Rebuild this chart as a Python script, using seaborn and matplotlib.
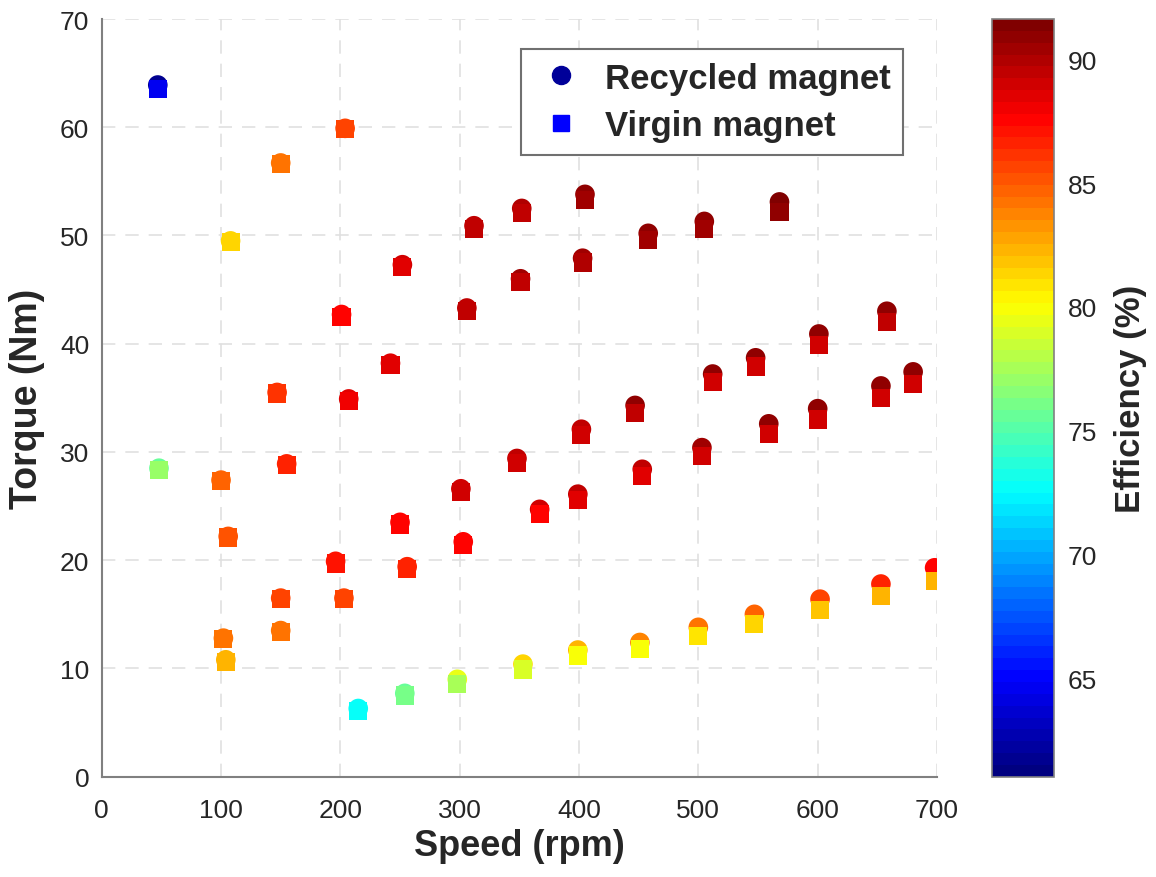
import numpy as np
import pandas as pd
import matplotlib
matplotlib.use("Agg")
import matplotlib.pyplot as plt
import seaborn as sns
from matplotlib.lines import Line2D
from matplotlib.colors import LinearSegmentedColormap

# speed (rpm), torque (Nm) and efficiency (%)
speed = [47, 48, 100, 102, 104, 106, 108, 147, 150, 150, 150, 155, 196, 201, 203,
         204, 207, 215, 242, 250, 252, 254, 256, 298, 301, 303, 306, 312, 348, 351,
         352, 353, 367, 399, 399, 402, 403, 405, 447, 451, 453, 458, 500, 503, 505,
         512, 547, 548, 559, 568, 600, 601, 602, 653, 653, 658, 680, 698]

torque_recycled = [63.9, 28.5, 27.4, 12.8, 10.8, 22.2, 49.5, 35.5, 16.5, 13.5, 56.7, 28.9,
                   19.9, 42.7, 16.5, 59.9, 34.9, 6.3, 38.2, 23.5, 47.3, 7.7, 19.4, 9.0,
                   26.6, 21.7, 43.3, 50.9, 29.4, 46.0, 52.5, 10.4, 24.7, 11.7, 26.1, 32.1,
                   47.9, 53.8, 34.3, 12.4, 28.4, 50.2, 13.8, 30.4, 51.3, 37.2, 15.0, 38.7,
                   32.6, 53.1, 34.0, 40.9, 16.4, 17.8, 36.1, 43.0, 37.4, 19.3]
eff_recycled = [61.8, 75.5, 84.8, 84.0, 82.4, 85.3, 81.4, 86.0, 85.7, 84.4, 84.0, 86.7,
                87.0, 87.8, 85.7, 85.8, 88.3, 72.7, 88.6, 87.8, 88.9, 75.5, 86.8, 79.5,
                89.2, 87.4, 89.7, 89.7, 89.7, 90.2, 90.0, 81.3, 88.9, 82.4, 89.4, 89.7,
                90.5, 90.8, 90.8, 83.6, 89.7, 90.8, 84.4, 90.5, 91.1, 90.8, 84.8, 90.8,
                90.8, 91.4, 91.1, 91.1, 85.8, 86.6, 90.8, 91.1, 91.1, 87.4]

torque_virgin = [63.5, 28.3, 27.3, 12.7, 10.6, 22.1, 49.4, 35.4, 16.4, 13.4, 56.6, 28.8,
                 19.7, 42.5, 16.4, 59.8, 34.7, 6.1, 38.0, 23.3, 47.1, 7.5, 19.2, 8.6,
                 26.3, 21.4, 43.0, 50.6, 29.0, 45.7, 52.1, 9.9, 24.3, 11.2, 25.6, 31.6,
                 47.5, 53.3, 33.6, 11.8, 27.8, 49.6, 13.0, 29.6, 50.6, 36.5, 14.1, 37.9,
                 31.7, 52.2, 33.0, 39.9, 15.4, 16.7, 35.0, 42.0, 36.3, 18.1]
eff_virgin = [64.5, 77.0, 84.8, 84.0, 82.4, 85.3, 81.4, 86.0, 85.7, 84.4, 84.0, 86.7,
              87.0, 87.6, 85.7, 85.8, 88.0, 72.8, 88.4, 87.8, 88.7, 76.2, 86.8, 77.3,
              88.8, 87.4, 89.4, 89.4, 89.0, 89.7, 89.6, 78.8, 87.8, 79.8, 88.6, 89.2,
              90.0, 90.2, 89.7, 80.0, 88.6, 90.2, 80.7, 89.2, 90.5, 89.2, 81.3, 88.9,
              89.2, 90.8, 89.2, 89.2, 81.7, 82.2, 89.2, 89.7, 88.9, 82.5]

eff_range = (61.03, 91.63)
cbar_ticks = [65, 70, 75, 80, 85, 90]

rec = pd.DataFrame({"Speed": speed, "Torque": torque_recycled, "Efficiency": eff_recycled})
vir = pd.DataFrame({"Speed": speed, "Torque": torque_virgin, "Efficiency": eff_virgin})

sns.set_theme(style="white")
plt.rcParams["font.family"] = ["Liberation Sans", "DejaVu Sans"]

# MATLAB-style jet, 64 levels
jet_segments = {
    "red": [(0, 0, 0), (0.375, 0, 0), (0.625, 1, 1), (0.875, 1, 1), (1, 0.5, 0.5)],
    "green": [(0, 0, 0), (0.125, 0, 0), (0.375, 1, 1), (0.625, 1, 1), (0.875, 0, 0), (1, 0, 0)],
    "blue": [(0, 0.5, 0.5), (0.125, 1, 1), (0.375, 1, 1), (0.625, 0, 0), (1, 0, 0)],
}
cmap = LinearSegmentedColormap("matlab_jet", jet_segments, N=64)
norm = matplotlib.colors.Normalize(*eff_range)

fig = plt.figure(figsize=(11.56, 8.78), dpi=100)
ax = fig.add_axes([101.7 / 1156, 100.3 / 878, 835.3 / 1156, 757.7 / 878])

sns.scatterplot(data=rec, x="Speed", y="Torque", hue="Efficiency", palette=cmap,
                hue_norm=eff_range, marker="o", s=200, linewidth=0, legend=False, ax=ax)
sns.scatterplot(data=vir, x="Speed", y="Torque", hue="Efficiency", palette=cmap,
                hue_norm=eff_range, marker="s", s=170, linewidth=0, legend=False, ax=ax)

ax.set_xlim(0, 700)
ax.set_ylim(0, 70)
ax.set_xticks(range(0, 701, 100))
ax.set_yticks(range(0, 71, 10))
ax.grid(True, color="#e0e0e0", linestyle=(0, (8, 6)), linewidth=1.2)
ax.set_axisbelow(True)
for side in ["top", "right"]:
    ax.spines[side].set_visible(False)
for side in ["left", "bottom"]:
    ax.spines[side].set_color("#808080")
    ax.spines[side].set_linewidth(1.5)
ax.tick_params(direction="in", length=6, width=1.2, color="#555555",
               labelsize=19, labelcolor="#262626")
ax.tick_params(axis="x", pad=15)
ax.tick_params(axis="y", pad=9)
ax.set_xlabel("Speed (rpm)", fontsize=26, fontweight="bold", color="#262626", labelpad=5)
ax.set_ylabel("Torque (Nm)", fontsize=27, fontweight="bold", color="#262626", labelpad=11)

handles = [
    Line2D([], [], marker="o", linestyle="none", color=(0, 0, 0.6), markersize=13),
    Line2D([], [], marker="s", linestyle="none", color=(0, 0, 1), markersize=11),
]
leg = ax.legend(handles, ["Recycled magnet", "Virgin magnet"], loc="upper left",
                bbox_to_anchor=(0.5016, 0.9604), borderaxespad=0, frameon=True,
                fancybox=False, edgecolor="#707070", framealpha=1,
                prop={"size": 25, "weight": "bold"}, handletextpad=0.47,
                labelspacing=0.42, borderpad=0.36, handlelength=1.6)
leg.get_frame().set_linewidth(1.5)

# colorbar
cax = fig.add_axes([992.3 / 1156, 100.3 / 878, 61.7 / 1156, 757.7 / 878])
sm = matplotlib.cm.ScalarMappable(norm=norm, cmap=cmap)
cb = fig.colorbar(sm, cax=cax, ticks=cbar_ticks)
cb.outline.set_edgecolor("#808080")
cb.outline.set_linewidth(1.2)
cax.tick_params(direction="in", length=6, width=1.2, color="#333333",
                labelsize=19, labelcolor="#262626", pad=10)
cb.set_label("Efficiency (%)", fontsize=25, fontweight="bold", color="#262626", labelpad=12)

fig.savefig("out.png", dpi=100)
